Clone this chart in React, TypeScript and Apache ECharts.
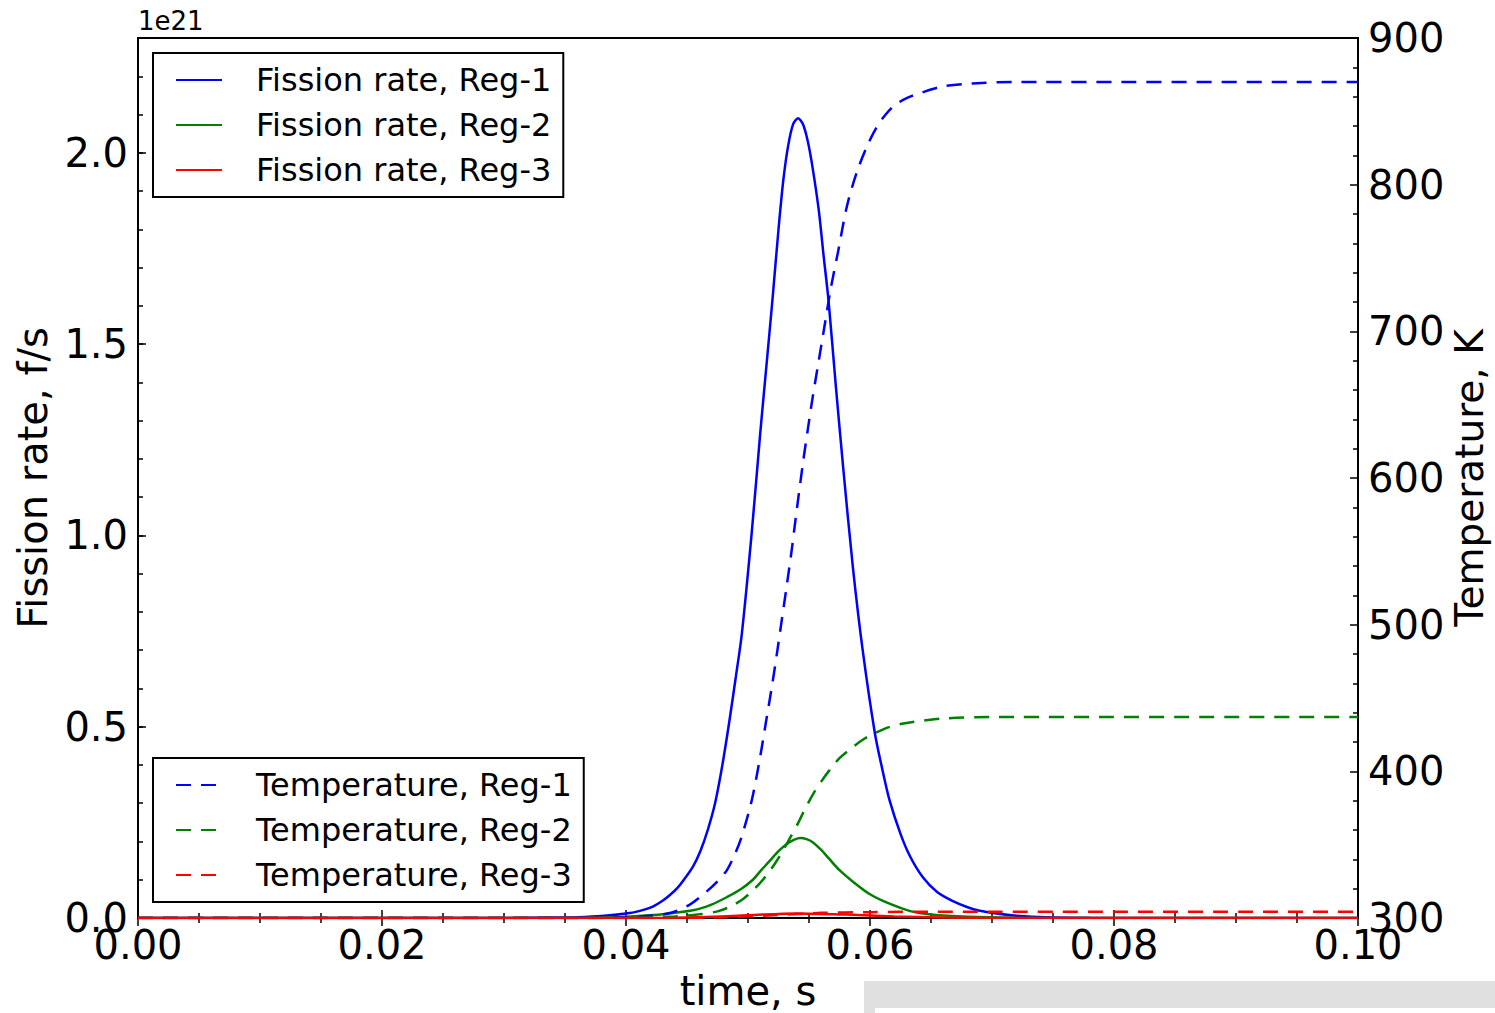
import React, { useEffect, useRef } from 'react';
import * as echarts from 'echarts';

// ---- data (time in s, fission rate in 1e21 f/s, temperature in K) ----
const tFission1 = [0, 0.02, 0.03, 0.034, 0.036, 0.038, 0.0403, 0.0415, 0.0422, 0.043, 0.0436, 0.0442, 0.0447, 0.0455, 0.0461, 0.0467, 0.0473, 0.0479, 0.0485, 0.049, 0.0495, 0.0503, 0.051, 0.0515, 0.052, 0.0525, 0.0529, 0.0533, 0.0537, 0.0541, 0.0545, 0.0549, 0.0553, 0.0558, 0.0562, 0.0566, 0.0572, 0.0578, 0.0586, 0.0594, 0.0604, 0.061, 0.0616, 0.0625, 0.0633, 0.0643, 0.0655, 0.0668, 0.068, 0.069, 0.0705, 0.072, 0.0745, 0.078, 0.082, 0.1];
const fission1 = [0, 0, 0, 0.001, 0.002, 0.005, 0.013, 0.022, 0.03, 0.045, 0.06, 0.078, 0.098, 0.135, 0.175, 0.23, 0.3, 0.4, 0.52, 0.63, 0.744, 1.005, 1.266, 1.44, 1.614, 1.8, 1.93, 2.02, 2.075, 2.09, 2.075, 2.03, 1.96, 1.85, 1.73, 1.614, 1.39, 1.178, 0.916, 0.7, 0.483, 0.39, 0.308, 0.22, 0.16, 0.108, 0.068, 0.044, 0.028, 0.019, 0.011, 0.006, 0.002, 0.0005, 0, 0];

const tFission2 = [0, 0.036, 0.038, 0.04, 0.042, 0.0435, 0.0455, 0.047, 0.0483, 0.0494, 0.0504, 0.051, 0.0518, 0.0525, 0.0533, 0.0538, 0.0543, 0.0548, 0.0553, 0.056, 0.0567, 0.0575, 0.0586, 0.06, 0.0614, 0.0633, 0.065, 0.068, 0.072, 0.08, 0.1];
const fission2 = [0, 0, 0.001, 0.003, 0.007, 0.012, 0.02, 0.035, 0.055, 0.075, 0.1, 0.122, 0.15, 0.175, 0.196, 0.205, 0.209, 0.206, 0.198, 0.178, 0.153, 0.125, 0.095, 0.062, 0.04, 0.018, 0.009, 0.003, 0.0005, 0, 0];

const tFission3 = [0, 0.042, 0.046, 0.05, 0.054, 0.058, 0.062, 0.066, 0.07, 0.1];
const fission3 = [0, 0, 0.002, 0.007, 0.012, 0.009, 0.004, 0.0015, 0.0003, 0];

const tTemp1 = [0, 0.035, 0.04, 0.0434, 0.0452, 0.0466, 0.0475, 0.0483, 0.049, 0.0495, 0.0503, 0.051, 0.0515, 0.052, 0.0524, 0.0528, 0.0532, 0.0536, 0.0539, 0.0545, 0.0549, 0.0553, 0.0558, 0.0563, 0.0568, 0.0574, 0.0581, 0.0589, 0.0598, 0.0606, 0.0613, 0.062, 0.063, 0.0643, 0.066, 0.0684, 0.072, 0.1];
const temp1 = [300, 300, 300.5, 303, 309, 318, 325, 333, 345, 356, 380, 410, 435, 460, 482, 505, 528, 552, 572, 610, 633, 655, 680, 705, 730, 755, 785, 808, 827, 840, 848, 854, 859, 863, 867, 869, 870, 870];

const tTemp2 = [0, 0.04, 0.044, 0.046, 0.0475, 0.0486, 0.0496, 0.0503, 0.051, 0.0516, 0.0522, 0.0528, 0.0534, 0.054, 0.0546, 0.0553, 0.056, 0.0567, 0.0575, 0.0585, 0.0595, 0.0604, 0.0615, 0.063, 0.066, 0.07, 0.1];
const temp2 = [300, 300, 301, 302.5, 304.5, 308, 313, 318, 324, 330, 337, 345, 354, 363, 373, 384, 393, 401, 409, 416, 422, 426, 430, 433, 436, 437, 437];

const tTemp3 = [0, 0.044, 0.048, 0.052, 0.056, 0.06, 0.065, 0.1];
const temp3 = [300, 300, 300.5, 301.8, 303.5, 304, 304.3, 304.3];

const fissionNames = ['Fission rate, Reg-1', 'Fission rate, Reg-2', 'Fission rate, Reg-3'];
const tempNames = ['Temperature, Reg-1', 'Temperature, Reg-2', 'Temperature, Reg-3'];
const colors = ['#0000ff', '#008000', '#ff0000'];

const FONT = 'DejaVu Sans';

function pairs(t: number[], v: number[]) {
  return t.map((x, i) => [x, v[i]]);
}

export default function App() {
  const ref = useRef<HTMLDivElement>(null);
  useEffect(() => {
    document.body.style.margin = '0';
    if (!ref.current) return;
    const chart = echarts.init(ref.current, null, { renderer: 'svg' });

    const fData = [pairs(tFission1, fission1), pairs(tFission2, fission2), pairs(tFission3, fission3)];
    const tData = [pairs(tTemp1, temp1), pairs(tTemp2, temp2), pairs(tTemp3, temp3)];

    const series: any[] = [];
    fData.forEach((d, i) => {
      series.push({
        name: fissionNames[i], type: 'line', xAxisIndex: 0, yAxisIndex: 0, data: d,
        symbol: 'none', smooth: 0.3, lineStyle: { color: colors[i], width: 2.5 }, itemStyle: { color: colors[i] },
      });
    });
    tData.forEach((d, i) => {
      series.push({
        name: tempNames[i], type: 'line', xAxisIndex: 0, yAxisIndex: 2, data: d,
        symbol: 'none', smooth: 0.3, lineStyle: { color: colors[i], width: 2.5, type: [15, 10] }, itemStyle: { color: colors[i] },
      });
    });

    const tick = { show: true, inside: true, length: 8, lineStyle: { color: '#000', width: 1.5 } };
    const minor = (n: number) => ({ show: true, splitNumber: n, length: 5, lineStyle: { color: '#000', width: 1.5 } });
    const labelStyle = { color: '#000', fontFamily: FONT, fontSize: 40 };
    const nameStyle = { color: '#000', fontFamily: FONT, fontSize: 40 };

    const legendCommon = {
      orient: 'vertical', left: 153, itemWidth: 46, itemHeight: 14, itemGap: 11,
      padding: [10, 12, 10, 22], borderColor: '#000', borderWidth: 2, backgroundColor: '#fff',
      selectedMode: false,
      itemStyle: { opacity: 0, borderWidth: 0 },
      textStyle: { color: '#000', fontFamily: FONT, fontSize: 32, lineHeight: 34, padding: [0, 0, 0, 29] },
    };

    chart.setOption({
      animation: false,
      backgroundColor: '#fff',
      grid: { left: 138, right: 137, top: 38, bottom: 95, show: true, borderColor: '#000', borderWidth: 2, backgroundColor: 'transparent', containLabel: false, outerBoundsMode: 'none' },
      xAxis: [
        {
          type: 'value', position: 'bottom', min: 0, max: 0.1, interval: 0.02,
          axisLine: { show: false }, splitLine: { show: false },
          axisTick: tick, minorTick: minor(4),
          axisLabel: { ...labelStyle, margin: 7, formatter: (v: number) => v.toFixed(2) },
          name: 'time, s', nameLocation: 'middle', nameGap: 53,
          nameTextStyle: nameStyle,
        },
        {
          type: 'value', position: 'top', min: 0, max: 0.1, interval: 0.02,
          axisLine: { show: false }, splitLine: { show: false },
          axisTick: tick, minorTick: minor(4), axisLabel: { show: false },
        },
      ],
      yAxis: [
        {
          type: 'value', position: 'left', min: 0, max: 2.3, interval: 0.5,
          axisLine: { show: false }, splitLine: { show: false },
          axisTick: tick,
          axisLabel: { ...labelStyle, margin: 10, showMaxLabel: false, formatter: (v: number) => v.toFixed(1) },
          name: 'Fission rate, f/s', nameLocation: 'middle', nameGap: 82, nameRotate: 90,
          nameTextStyle: nameStyle,
        },
        {
          type: 'value', position: 'left', min: 0, max: 2.3, interval: 0.1,
          axisLine: { show: false }, splitLine: { show: false },
          axisTick: { ...tick, length: 5 }, axisLabel: { show: false },
        },
        {
          type: 'value', position: 'right', min: 300, max: 900, interval: 100,
          axisLine: { show: false }, splitLine: { show: false },
          axisTick: tick, minorTick: minor(5),
          axisLabel: { ...labelStyle, margin: 10 },
          name: 'Temperature, K', nameLocation: 'middle', nameGap: 92, nameRotate: 90,
          nameMoveOverlap: false,
          nameTextStyle: { ...nameStyle, fontSize: 39 },
        },
      ],
      legend: [
        { ...legendCommon, top: 53, data: fissionNames },
        { ...legendCommon, top: 758, data: tempNames },
      ],
      graphic: [
        { type: 'text', left: 138, top: 8, style: { text: '1e21', fill: '#000', font: `26px "${FONT}"` } },
        { type: 'rect', shape: { x: 864, y: 981, width: 631, height: 32 }, style: { fill: '#e0e0e0' }, z: 0 },
        { type: 'rect', shape: { x: 875, y: 1008, width: 620, height: 5 }, style: { fill: '#fff' }, z: 0 },
      ],
      series,
    });
    return () => chart.dispose();
  }, []);
  return <div ref={ref} style={{ width: 1495, height: 1013 }} />;
}
